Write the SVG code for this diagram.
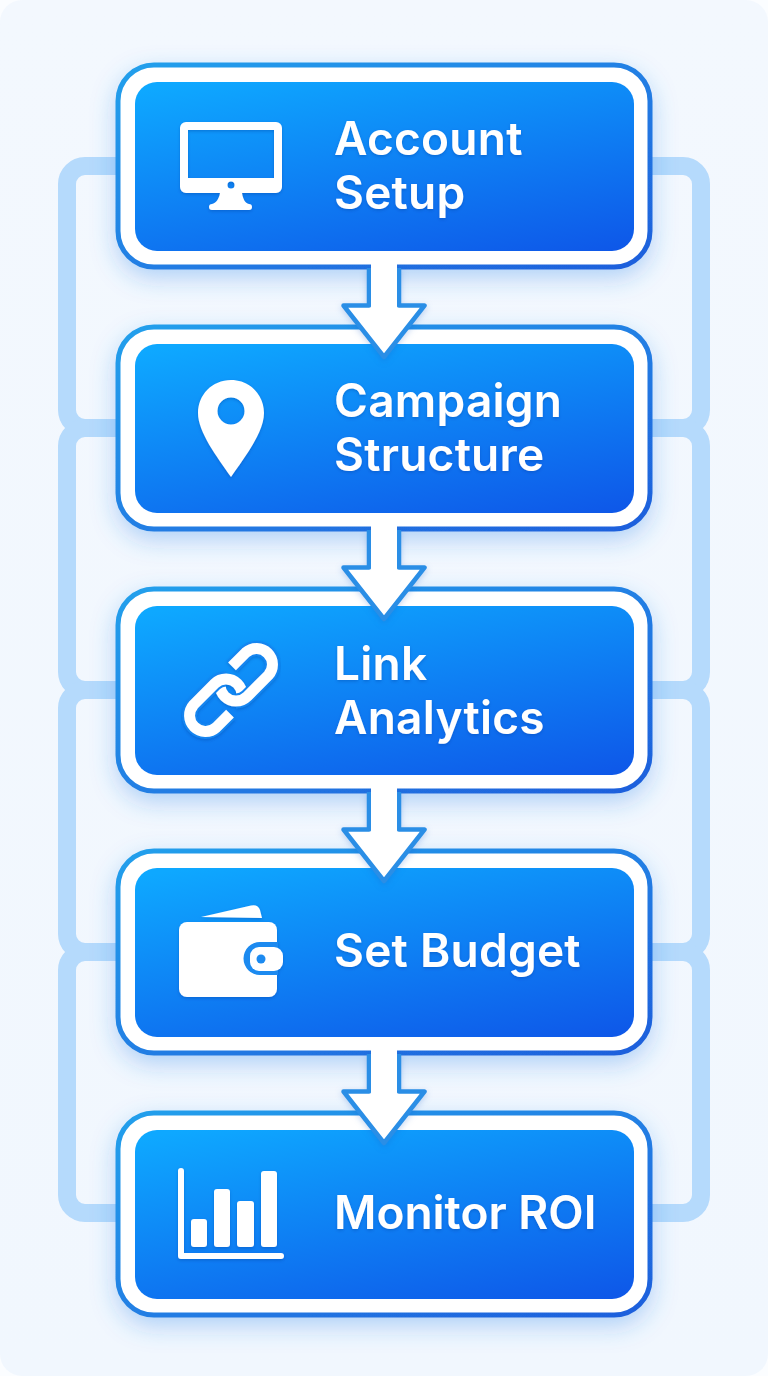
<svg xmlns="http://www.w3.org/2000/svg" xmlns:xlink="http://www.w3.org/1999/xlink" width="768" height="1376" viewBox="0 0 768 1376">
<defs>
<linearGradient id="fillG" x1="0.1" y1="0" x2="0.75" y2="1.15"><stop offset="0" stop-color="#0ea8ff"/><stop offset="1" stop-color="#0e56e8"/></linearGradient>
<linearGradient id="edgeG" x1="0" y1="0" x2="1" y2="1"><stop offset="0" stop-color="#22a0ec"/><stop offset="1" stop-color="#1f5fdc"/></linearGradient>
<linearGradient id="bgG" x1="0" y1="0" x2="0" y2="1"><stop offset="0" stop-color="#f3f8fe"/><stop offset="1" stop-color="#f1f7fe"/></linearGradient>
<filter id="shadow" x="-15%" y="-20%" width="130%" height="150%"><feDropShadow dx="0" dy="9" stdDeviation="12" flood-color="#2b80e8" flood-opacity="0.32"/></filter>
<filter id="soft" x="-10%" y="-10%" width="120%" height="125%"><feDropShadow dx="0" dy="1.500" stdDeviation="1.500" flood-color="#063a9c" flood-opacity="0.35"/></filter>
<g id="card">
<rect x="118" y="65" width="532" height="202" rx="36" fill="#fff" stroke="url(#edgeG)" stroke-width="5" filter="url(#shadow)"/>
<rect x="135" y="82" width="499" height="169" rx="22" fill="url(#fillG)"/>
</g>
<g id="arrowShape">
<path class="ar" d="M369 268V305.500H343.500L384 357L424.500 305.500H399V268"/>
<path d="M371 262H397V312H371Z" fill="#fff"/>
</g>
<path id="hook" d="M236 701A16 16 0 0 1 220 685"/>
<path id="strand" d="M232 666.400L245.700 652.700A16 16 0 0 1 268.300 675.300L247.300 696.300A16 16 0 0 1 236 701"/>
</defs>
<style>
.link{fill:none;stroke:#b5dafc;stroke-width:18}
.ar{fill:#fff;stroke:#2a8ee6;stroke-width:4.500;stroke-linejoin:round;filter:drop-shadow(0 2px 3px rgba(20,90,200,.25))}
.t{font-family:Inter,"Liberation Sans",sans-serif;font-weight:600;font-size:46px;letter-spacing:.25px;fill:#fff;filter:url(#soft)}
.ic{fill:#fff;filter:url(#soft)}
.sl{fill:none;stroke:#fff;stroke-width:11;stroke-linecap:butt}
.halo{fill:none;stroke:#1585f0;stroke-width:15;stroke-linecap:butt}
</style>
<rect width="768" height="1376" fill="#fbfdff"/>
<rect width="768" height="1376" rx="22" fill="url(#bgG)"/>
<g id="connectors">
<path class="link" d="M118 166H85A18 18 0 0 0 67 184V410A18 18 0 0 0 85 428H118"/>
<path class="link" d="M118 428H85A18 18 0 0 0 67 446V672A18 18 0 0 0 85 690H118"/>
<path class="link" d="M118 690H85A18 18 0 0 0 67 708V934A18 18 0 0 0 85 952H118"/>
<path class="link" d="M118 952H85A18 18 0 0 0 67 970V1195A18 18 0 0 0 85 1213H118"/>
<path class="link" d="M650 166H683A18 18 0 0 1 701 184V410A18 18 0 0 1 683 428H650"/>
<path class="link" d="M650 428H683A18 18 0 0 1 701 446V672A18 18 0 0 1 683 690H650"/>
<path class="link" d="M650 690H683A18 18 0 0 1 701 708V934A18 18 0 0 1 683 952H650"/>
<path class="link" d="M650 952H683A18 18 0 0 1 701 970V1195A18 18 0 0 1 683 1213H650"/>
</g>
<g id="node1">
<use href="#card"/>
<path class="ic" fill-rule="evenodd" d="M186 122H276A6 6 0 0 1 282 128V187A6 6 0 0 1 276 193H242C243 199 245 203 249 204A3 3 0 0 1 249 210H212A3 3 0 0 1 212 204C216 203 219 199 220 193H186A6 6 0 0 1 180 187V128A6 6 0 0 1 186 122ZM188 130V178H274V130ZM231 181.500A3.500 3.500 0 1 0 231 188.500A3.500 3.500 0 1 0 231 181.500Z"/>
<text class="t" x="334" y="155">Account</text>
<text class="t" x="334" y="209">Setup</text>
</g>
<g id="node2">
<use href="#card" y="262"/>
<path class="ic" fill-rule="evenodd" d="M231 380C212 380 198 395 198 413C198 432 217 457 231 477C245 457 264 432 264 413C264 395 250 380 231 380ZM231 397.500A13.500 13.500 0 1 1 231 424.500A13.500 13.500 0 1 1 231 397.500Z"/>
<text class="t" x="334" y="417">Campaign</text>
<text class="t" x="334" y="471">Structure</text>
</g>
<g id="node3">
<use href="#card" y="524"/>
<g filter="url(#soft)">
<use href="#hook" class="sl"/>
<use href="#hook" class="sl" transform="rotate(180 231 690)"/>
<use href="#strand" class="halo"/>
<use href="#strand" class="halo" transform="rotate(180 231 690)"/>
<use href="#strand" class="sl"/>
<use href="#strand" class="sl" transform="rotate(180 231 690)"/>
</g>
<text class="t" x="334" y="680">Link</text>
<text class="t" x="334" y="734">Analytics</text>
</g>
<g id="node4">
<use href="#card" y="786"/>
<g filter="url(#soft)">
<path fill="#fff" d="M201 917L251 905.500Q258 904 260 910L262 918Z"/>
<rect x="179" y="922" width="98" height="75" rx="8" fill="#fff"/>
<path d="M278 942H260A16.500 16.500 0 0 0 260 975H278Z" fill="#1a8af0"/>
<rect x="250" y="947" width="33" height="24" rx="9" fill="#fff"/>
<circle cx="261" cy="959" r="4.500" fill="#1a8af0"/>
</g>
<text class="t" x="334" y="967">Set Budget</text>
</g>
<g id="node5">
<use href="#card" y="1048"/>
<g class="ic">
<path d="M181 1171V1256H281" fill="none" stroke="#fff" stroke-width="6" stroke-linecap="round" stroke-linejoin="round"/>
<rect x="191" y="1219" width="16" height="28" rx="3"/>
<rect x="214" y="1189" width="16" height="58" rx="3"/>
<rect x="237" y="1201" width="17" height="46" rx="3"/>
<rect x="261" y="1171" width="16" height="76" rx="3"/>
</g>
<text class="t" x="334" y="1229" style="letter-spacing:0">Monitor ROI</text>
</g>
<g id="arrows">
<use href="#arrowShape"/>
<use href="#arrowShape" y="262"/>
<use href="#arrowShape" y="524"/>
<use href="#arrowShape" y="786"/>
</g>
</svg>
